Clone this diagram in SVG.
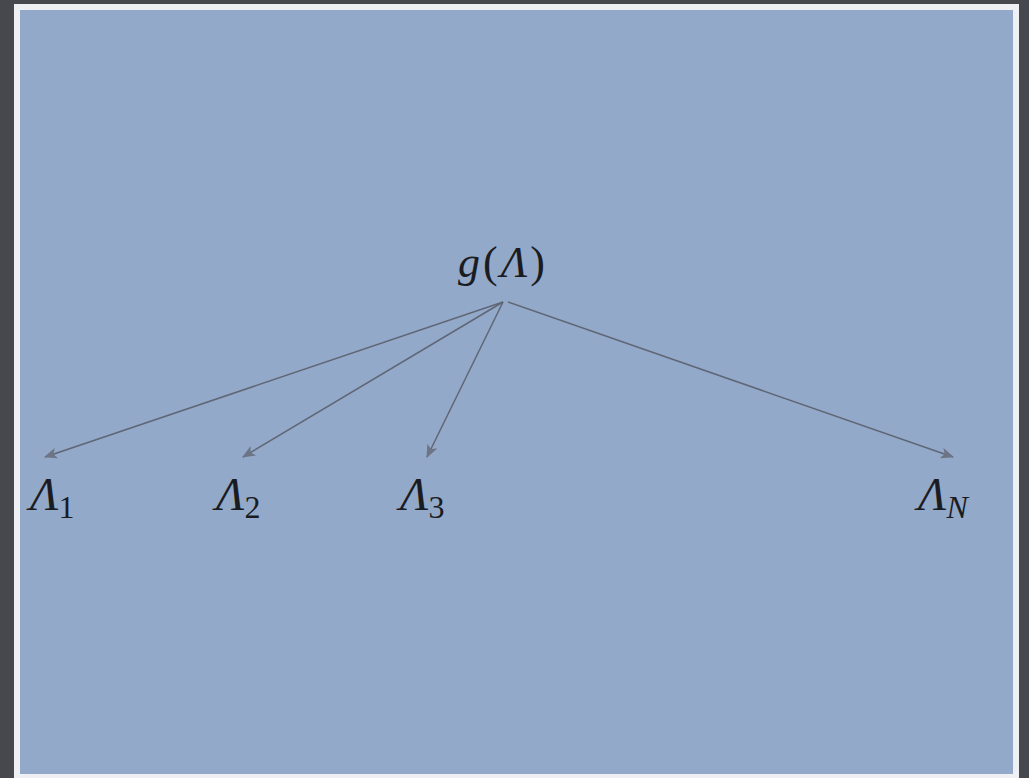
<svg xmlns="http://www.w3.org/2000/svg" width="1029" height="778" viewBox="0 0 1029 778">
<defs>
<style>
.lbl{font-family:"Liberation Serif","DejaVu Serif",serif;font-style:italic;font-size:47px;fill:#1a1c22}
.top{font-size:44px;letter-spacing:3px}
.sub{font-family:"Liberation Serif","DejaVu Serif",serif;font-style:normal;font-size:32px;fill:#1a1c22}
.subi{font-family:"Liberation Serif","DejaVu Serif",serif;font-style:italic;font-size:32px;fill:#1a1c22}
.up{font-style:normal}
.edge{stroke:#5f6675;stroke-width:1.5;fill:none;marker-end:url(#ah)}
</style>
<marker id="ah" viewBox="0 0 12 10" refX="11" refY="5" markerWidth="14" markerHeight="11" markerUnits="userSpaceOnUse" orient="auto">
<path d="M0,0 L12,5 L0,10 L3,5 Z" fill="#6d7483"/>
</marker>
</defs>
<rect x="0" y="0" width="1029" height="778" fill="#46484e"/>
<rect x="14" y="4" width="1005" height="774" fill="#eef0f4"/>
<rect x="20" y="10" width="993" height="764" fill="#93a9c9"/>
<g id="connectors">
<line class="edge" x1="503" y1="302" x2="45" y2="457"/>
<line class="edge" x1="503" y1="302" x2="243" y2="457"/>
<line class="edge" x1="503" y1="302" x2="427" y2="457"/>
<line class="edge" x1="508" y1="302" x2="953" y2="457"/>
</g>
<g id="g">
<text class="lbl top" x="458" y="277">g<tspan class="up">(</tspan>Λ<tspan class="up">)</tspan></text>
</g>
<g id="L1"><text class="lbl" x="30" y="510">Λ<tspan class="sub" dy="8">1</tspan></text></g>
<g id="L2"><text class="lbl" x="216" y="510">Λ<tspan class="sub" dy="8">2</tspan></text></g>
<g id="L3"><text class="lbl" x="400" y="510">Λ<tspan class="sub" dy="8">3</tspan></text></g>
<g id="LN"><text class="lbl" x="918" y="510">Λ<tspan class="subi" dy="8">N</tspan></text></g>
</svg>
